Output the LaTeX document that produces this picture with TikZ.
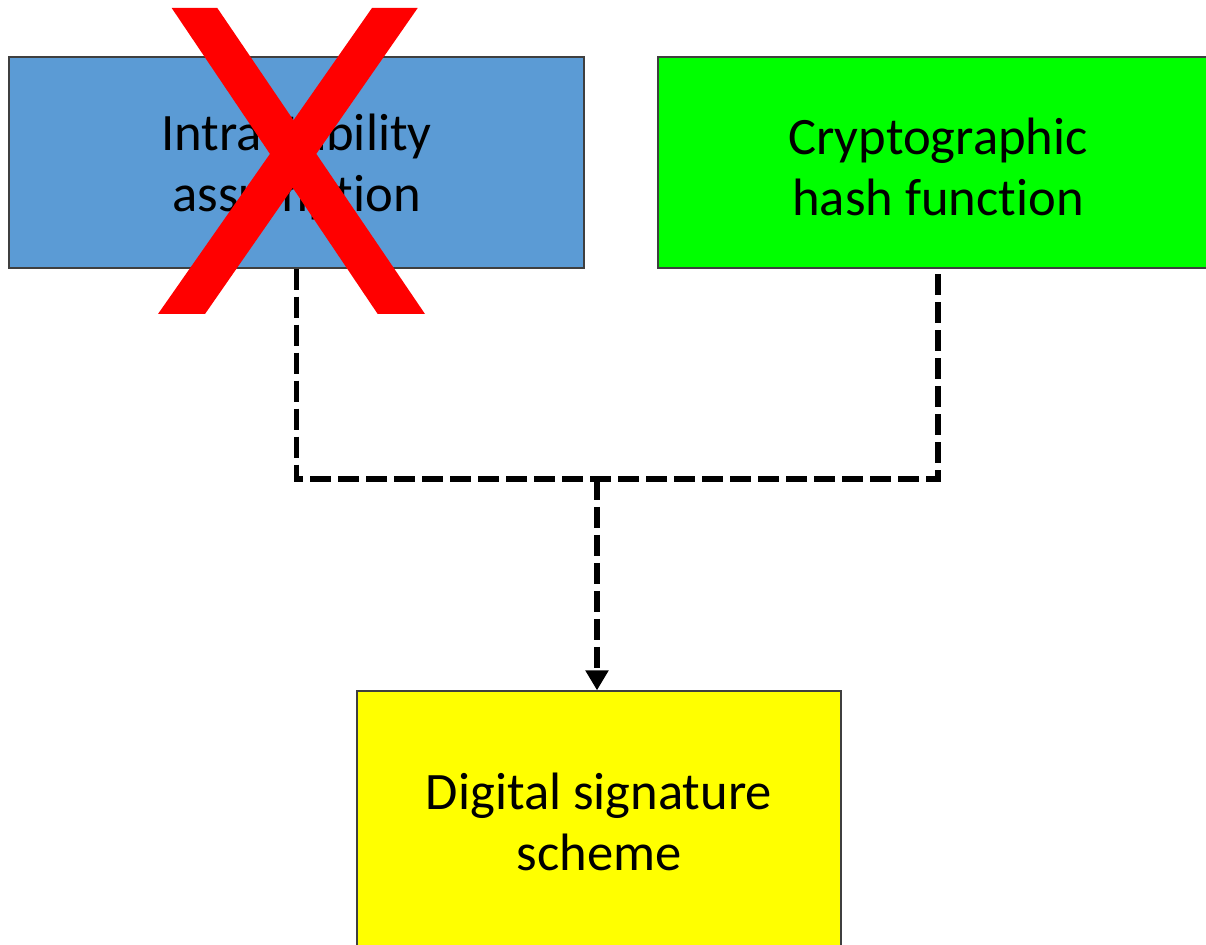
\documentclass[tikz,border=0pt]{standalone}
\usepackage{fontspec}
\setmainfont[Ligatures=NoCommon]{Carlito}
\usetikzlibrary{arrows.meta}
\definecolor{boxblue}{HTML}{5B9BD5}
\definecolor{boxgreen}{HTML}{00FF00}
\definecolor{boxyellow}{HTML}{FFFF00}
\definecolor{edgegray}{HTML}{3F3F3F}
\tikzset{
  box/.style={draw=edgegray, line width=0.6pt, align=center, inner sep=0pt,
    font=\fontsize{26.3}{30.5}\selectfont},
  conn/.style={line width=2.6pt, dash pattern=on 10.5pt off 3.5pt, black},
  tipconn/.style={conn, -{Triangle[width=11pt,length=10pt]}},
}
\begin{document}
\begin{tikzpicture}[x=0.5pt,y=-0.5pt]
\useasboundingbox (0,0) rectangle (1206,945);
\clip (0,0) rectangle (1206,945);
\fill[white] (0,0) rectangle (1206,945);
\node[box, fill=boxblue, minimum width=287.5pt, minimum height=105.5pt] (a) at (296.5,162.5) {\rule{0pt}{23pt}Intractability\\assumption};
\node[box, fill=boxgreen, minimum width=280pt, minimum height=105.5pt] (b) at (938,162.5) {\rule{0pt}{23pt}Cryptographic\\hash function};
\node[box, fill=boxyellow, minimum width=242pt, minimum height=131pt] (c) at (599,822) {Digital signature\\scheme};
\coordinate (j) at (597,479);
\draw[conn] (a.south) |- (j) -| (b.south);
\draw[tipconn] (j) -- (j |- c.north);
\fill[red] (171.7,8) -- (217.3,8) -- (425,314) -- (377.7,314) -- cycle;
\fill[red] (372,8) -- (417.7,8) -- (205,314) -- (158,314) -- cycle;
\end{tikzpicture}
\end{document}
